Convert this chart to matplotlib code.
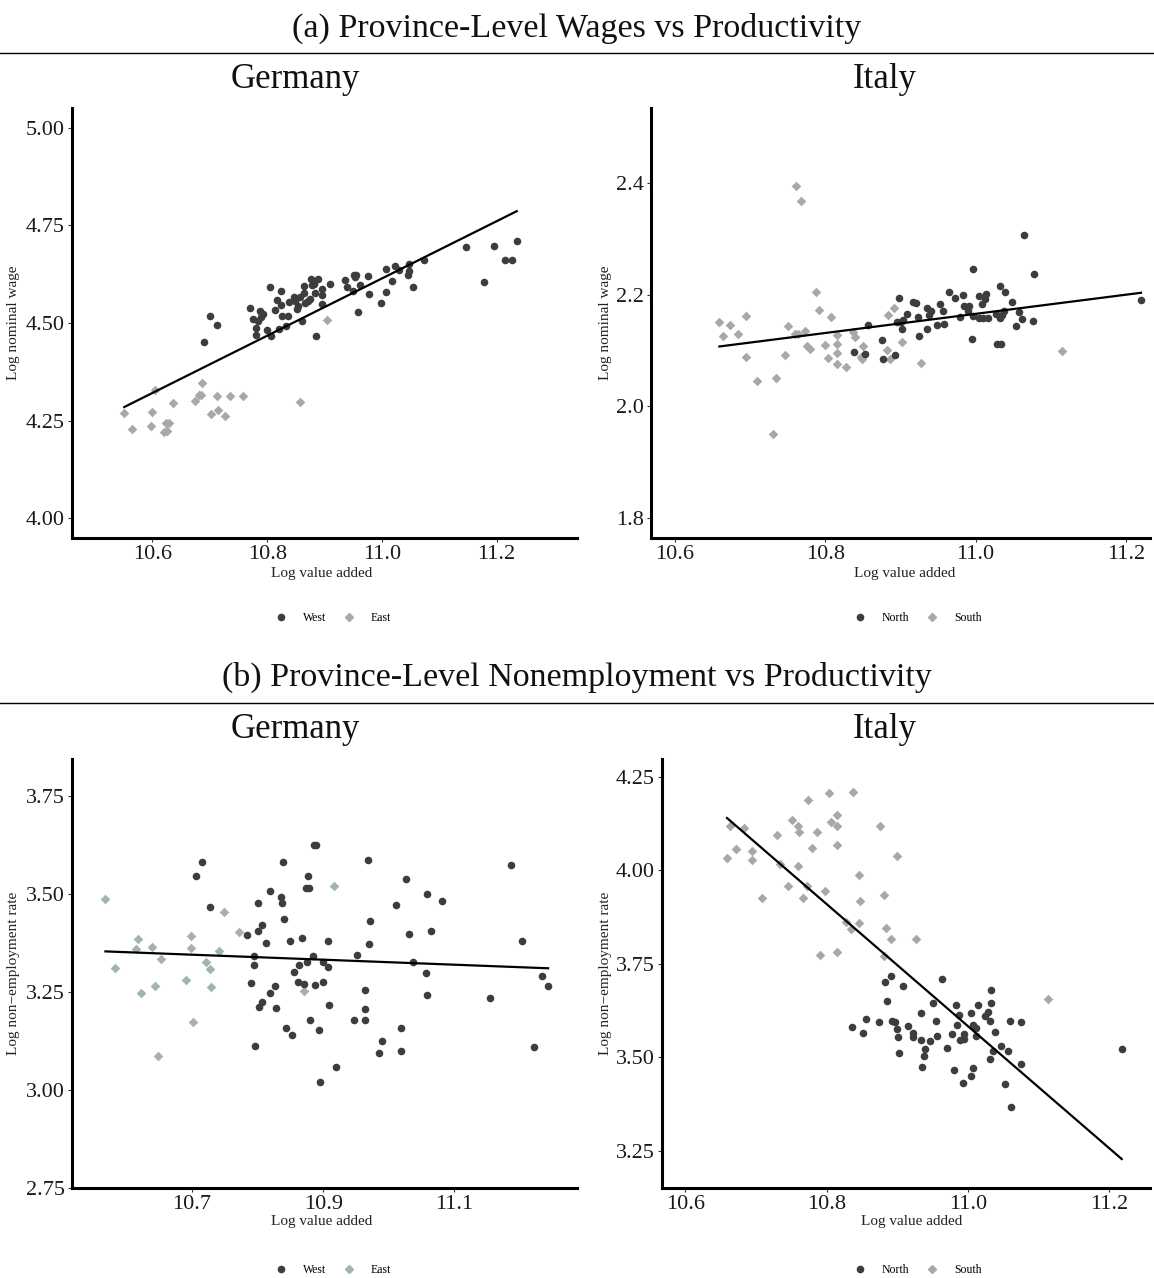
import numpy as np
import matplotlib.pyplot as plt
from matplotlib.lines import Line2D

# ---- data ----
# (a) wages, Germany
ger_w_west_x = [10.690, 10.701, 10.712, 10.770, 10.775, 10.780, 10.780, 10.784, 10.787, 10.790,
                10.793, 10.799, 10.805, 10.807, 10.813, 10.818, 10.821, 10.825, 10.825, 10.826,
                10.833, 10.837, 10.839, 10.846, 10.848, 10.852, 10.854, 10.858, 10.861, 10.864,
                10.865, 10.866, 10.871, 10.875, 10.876, 10.878, 10.881, 10.884, 10.885, 10.888,
                10.895, 10.896, 10.896, 10.909, 10.935, 10.940, 10.950, 10.952, 10.953, 10.955,
                10.958, 10.961, 10.975, 10.978, 10.999, 11.007, 11.008, 11.017, 11.022, 11.029,
                11.046, 11.047, 11.047, 11.054, 11.073, 11.146, 11.178, 11.195, 11.214, 11.226,
                11.235]
ger_w_west_y = [4.451, 4.519, 4.496, 4.538, 4.510, 4.488, 4.469, 4.506, 4.530, 4.515,
                4.523, 4.483, 4.593, 4.468, 4.532, 4.560, 4.484, 4.581, 4.546, 4.518,
                4.493, 4.519, 4.554, 4.566, 4.557, 4.535, 4.544, 4.566, 4.506, 4.595,
                4.578, 4.552, 4.557, 4.562, 4.613, 4.597, 4.600, 4.578, 4.467, 4.613,
                4.588, 4.571, 4.549, 4.600, 4.611, 4.592, 4.583, 4.624, 4.617, 4.623,
                4.527, 4.596, 4.619, 4.574, 4.552, 4.580, 4.638, 4.607, 4.647, 4.636,
                4.624, 4.632, 4.651, 4.591, 4.661, 4.695, 4.606, 4.697, 4.660, 4.660,
                4.710]
ger_w_east_x = [10.551, 10.565, 10.600, 10.597, 10.604, 10.623, 10.629, 10.620, 10.626, 10.636,
                10.675, 10.682, 10.685, 10.687, 10.703, 10.713, 10.714, 10.727, 10.735, 10.758,
                10.858, 10.905]
ger_w_east_y = [4.270, 4.229, 4.272, 4.237, 4.328, 4.243, 4.243, 4.221, 4.224, 4.295,
                4.300, 4.316, 4.316, 4.346, 4.266, 4.312, 4.278, 4.261, 4.312, 4.312,
                4.299, 4.507]
ger_w_fit = (-3.4436, 0.7325)  # intercept, slope

# (a) wages, Italy
ita_w_north_x = [10.838, 10.853, 10.857, 10.876, 10.877, 10.893, 10.898, 10.896, 10.901, 10.902,
                 10.903, 10.909, 10.917, 10.921, 10.923, 10.924, 10.935, 10.935, 10.938, 10.941,
                 10.948, 10.953, 10.956, 10.958, 10.964, 10.972, 10.979, 10.983, 10.985, 10.990,
                 10.991, 10.995, 10.996, 10.997, 11.004, 11.005, 11.008, 11.010, 11.013, 11.014,
                 11.016, 11.027, 11.029, 11.032, 11.033, 11.034, 11.035, 11.038, 11.039, 11.048,
                 11.054, 11.058, 11.062, 11.064, 11.076, 11.077, 11.220]
ita_w_north_y = [2.097, 2.094, 2.146, 2.118, 2.084, 2.091, 2.193, 2.151, 2.151, 2.139,
                 2.155, 2.165, 2.187, 2.185, 2.160, 2.125, 2.175, 2.139, 2.164, 2.171,
                 2.146, 2.183, 2.171, 2.147, 2.205, 2.194, 2.160, 2.200, 2.180, 2.171,
                 2.179, 2.121, 2.162, 2.246, 2.158, 2.197, 2.183, 2.158, 2.192, 2.201,
                 2.158, 2.166, 2.112, 2.158, 2.215, 2.112, 2.164, 2.171, 2.205, 2.187,
                 2.143, 2.168, 2.156, 2.306, 2.152, 2.236, 2.191]
ita_w_south_x = [10.659, 10.664, 10.673, 10.684, 10.695, 10.695, 10.709, 10.731, 10.734, 10.746,
                 10.750, 10.761, 10.767, 10.759, 10.763, 10.773, 10.775, 10.780, 10.787, 10.791,
                 10.799, 10.803, 10.808, 10.815, 10.815, 10.816, 10.816, 10.828, 10.837, 10.840,
                 10.847, 10.850, 10.849, 10.882, 10.884, 10.886, 10.892, 10.902, 10.927, 11.115]
ita_w_south_y = [2.150, 2.125, 2.146, 2.130, 2.161, 2.088, 2.045, 1.951, 2.050, 2.091,
                 2.144, 2.394, 2.368, 2.130, 2.130, 2.134, 2.107, 2.103, 2.205, 2.173,
                 2.109, 2.087, 2.160, 2.127, 2.111, 2.095, 2.076, 2.071, 2.133, 2.124,
                 2.089, 2.107, 2.085, 2.101, 2.164, 2.084, 2.176, 2.115, 2.077, 2.098]
ita_w_fit = (0.280, 0.1714)

# (b) nonemployment, Germany
ger_n_west_x = [10.715, 10.706, 10.728, 10.784, 10.790, 10.794, 10.795, 10.796, 10.800, 10.801,
                10.802, 10.806, 10.807, 10.813, 10.819, 10.819, 10.827, 10.828, 10.835, 10.837,
                10.838, 10.840, 10.849, 10.852, 10.844, 10.856, 10.861, 10.863, 10.868, 10.870,
                10.874, 10.877, 10.878, 10.875, 10.880, 10.885, 10.886, 10.889, 10.888, 10.894,
                10.895, 10.899, 10.900, 10.907, 10.907, 10.909, 10.919, 10.947, 10.952, 10.963,
                10.963, 10.964, 10.969, 10.970, 10.972, 10.985, 10.989, 11.011, 11.018, 11.018,
                11.027, 11.031, 11.037, 11.057, 11.058, 11.058, 11.065, 11.081, 11.155, 11.186,
                11.203, 11.222, 11.234, 11.243]
ger_n_west_y = [3.581, 3.544, 3.467, 3.394, 3.273, 3.317, 3.342, 3.113, 3.475, 3.405,
                3.212, 3.225, 3.420, 3.375, 3.506, 3.246, 3.265, 3.208, 3.491, 3.475,
                3.581, 3.435, 3.379, 3.139, 3.158, 3.300, 3.276, 3.319, 3.386, 3.270,
                3.515, 3.545, 3.515, 3.326, 3.178, 3.342, 3.625, 3.625, 3.267, 3.152,
                3.021, 3.327, 3.274, 3.379, 3.314, 3.216, 3.058, 3.179, 3.344, 3.254,
                3.206, 3.179, 3.585, 3.372, 3.431, 3.094, 3.124, 3.471, 3.098, 3.157,
                3.538, 3.398, 3.326, 3.297, 3.242, 3.499, 3.405, 3.481, 3.233, 3.572,
                3.379, 3.108, 3.290, 3.265]
ger_n_east_x = [10.568, 10.583, 10.614, 10.617, 10.622, 10.639, 10.643, 10.648, 10.652, 10.691,
                10.698, 10.698, 10.702, 10.721, 10.728, 10.729, 10.741, 10.749, 10.772, 10.870,
                10.917]
ger_n_east_y = [3.486, 3.310, 3.358, 3.384, 3.246, 3.363, 3.264, 3.086, 3.333, 3.281,
                3.361, 3.392, 3.174, 3.325, 3.309, 3.263, 3.353, 3.453, 3.401, 3.253,
                3.519]
ger_n_fit = (4.026, -0.0637)

# (b) nonemployment, Italy
ita_n_north_x = [10.836, 10.851, 10.856, 10.874, 10.883, 10.885, 10.891, 10.893, 10.897, 10.900,
                 10.901, 10.902, 10.908, 10.916, 10.922, 10.923, 10.934, 10.934, 10.935, 10.938,
                 10.940, 10.947, 10.951, 10.955, 10.956, 10.963, 10.970, 10.977, 10.981, 10.984,
                 10.985, 10.987, 10.989, 10.993, 10.994, 10.995, 11.004, 11.004, 11.007, 11.008,
                 11.011, 11.012, 11.014, 11.025, 11.028, 11.032, 11.032, 11.033, 11.033, 11.035,
                 11.038, 11.047, 11.052, 11.057, 11.060, 11.061, 11.075, 11.076, 11.218]
ita_n_north_y = [3.581, 3.565, 3.602, 3.593, 3.701, 3.651, 3.717, 3.597, 3.593, 3.575,
                 3.553, 3.512, 3.691, 3.583, 3.565, 3.554, 3.618, 3.546, 3.475, 3.504,
                 3.523, 3.543, 3.644, 3.597, 3.557, 3.710, 3.525, 3.563, 3.467, 3.639,
                 3.586, 3.613, 3.545, 3.430, 3.549, 3.561, 3.617, 3.451, 3.472, 3.586,
                 3.577, 3.556, 3.639, 3.611, 3.622, 3.494, 3.597, 3.681, 3.645, 3.516,
                 3.568, 3.529, 3.429, 3.516, 3.597, 3.367, 3.594, 3.483, 3.523]
ita_n_south_x = [10.659, 10.663, 10.672, 10.683, 10.695, 10.695, 10.708, 10.730, 10.734, 10.746,
                 10.751, 10.759, 10.760, 10.761, 10.766, 10.773, 10.774, 10.779, 10.786, 10.791,
                 10.798, 10.803, 10.807, 10.815, 10.815, 10.815, 10.815, 10.827, 10.835, 10.838,
                 10.846, 10.846, 10.848, 10.876, 10.882, 10.884, 10.882, 10.891, 10.900, 10.926,
                 11.113]
ita_n_south_y = [4.033, 4.119, 4.058, 4.114, 4.053, 4.028, 3.926, 4.094, 4.018, 3.957,
                 4.134, 4.011, 4.118, 4.103, 3.927, 3.957, 4.189, 4.061, 4.102, 3.773,
                 3.945, 4.206, 4.129, 4.148, 4.118, 4.067, 3.781, 3.862, 3.842, 4.210,
                 3.988, 3.858, 3.919, 4.120, 3.933, 3.846, 3.772, 3.817, 4.038, 3.816,
                 3.657]
ita_n_fit = (21.542, -1.6326)

DARK = "#3d3d3d"
LIGHT = "#a8a8a8"
TEAL = "#a3b3b1"

W, H = 1154, 1278
plt.rcParams['font.family'] = ['Liberation Serif', 'DejaVu Serif']
fig = plt.figure(figsize=(W / 100, H / 100), dpi=100)


def px_axes(x0, y0, x1, y1):
    return fig.add_axes([x0 / W, 1 - y1 / H, (x1 - x0) / W, (y1 - y0) / H])


def panel(box, g1, g2, c2, fit, xlim, ylim, xticks, yticks, yfmt,
          xlab_x, xlab_y, ylab, ylab_x, names, leg_x, leg_y):
    ax = px_axes(*box)
    (x1, y1), (x2, y2) = g1, g2
    ax.scatter(x1, y1, s=30, marker='o', color=DARK, linewidths=0, zorder=3)
    ax.scatter(x2, y2, s=24, marker='D', color=c2, linewidths=0, zorder=2)
    allx = np.array(list(x1) + list(x2))
    fx = np.array([allx.min(), allx.max()])
    ax.plot(fx, fit[0] + fit[1] * fx, color='black', lw=1.6, zorder=4)
    ax.set_xlim(*xlim)
    ax.set_ylim(*ylim)
    ax.set_xticks(xticks)
    ax.set_xticklabels([f"{t:.1f}" for t in xticks])
    ax.set_yticks(yticks)
    ax.set_yticklabels([yfmt.format(t) for t in yticks])
    for s in ['top', 'right']:
        ax.spines[s].set_visible(False)
    for s in ['left', 'bottom']:
        ax.spines[s].set_linewidth(2.2)
        ax.spines[s].set_color('black')
    ax.tick_params(length=3, width=0.8, color='#333333', labelsize=16,
                   labelcolor='#1a1a1a', pad=2)
    fig.text(xlab_x / W, 1 - xlab_y / H, "Log value added", ha='center', va='center',
             fontsize=11, color='#222222')
    fig.text(ylab_x / W, 1 - (box[1] + box[3]) / 2 / H, ylab, rotation=90,
             ha='center', va='center', fontsize=11, color='#222222')
    handles = [Line2D([], [], marker='o', ls='', color=DARK, markersize=4.5),
               Line2D([], [], marker='D', ls='', color=c2, markersize=3.8)]
    fig.legend(handles, names, loc='center', bbox_to_anchor=(leg_x / W, 1 - leg_y / H),
               ncol=2, frameon=False, fontsize=8.5, handletextpad=1.35, columnspacing=1.45,
               handlelength=1.0)
    return ax


# headers
fig.text(0.5, 1 - 28 / H, "(a) Province-Level Wages vs Productivity", ha='center',
         va='center', fontsize=24.5, color='#111111')
fig.add_artist(Line2D([0, 1], [1 - 53 / H] * 2, transform=fig.transFigure, color='black', lw=1))
fig.text(0.5, 1 - 677 / H, "(b) Province-Level Nonemployment vs Productivity", ha='center',
         va='center', fontsize=24.5, color='#111111')
fig.add_artist(Line2D([0, 1], [1 - 703 / H] * 2, transform=fig.transFigure, color='black', lw=1))
for yy in (80, 730):
    fig.text(295 / W, 1 - yy / H, "Germany", ha='center', va='center', fontsize=25, color='#111111')
    fig.text(885 / W, 1 - yy / H, "Italy", ha='center', va='center', fontsize=25, color='#111111')

xt6 = [10.6, 10.8, 11.0, 11.2]
panel((72, 108, 577, 538), (ger_w_west_x, ger_w_west_y), (ger_w_east_x, ger_w_east_y), LIGHT,
      ger_w_fit, (10.46, 11.34), (3.95, 5.05), xt6, [4.0, 4.25, 4.5, 4.75, 5.0], "{:.2f}",
      322, 574, "Log nominal wage", 14, ["West", "East"], 333, 618)
panel((651, 108, 1150, 538), (ita_w_north_x, ita_w_north_y), (ita_w_south_x, ita_w_south_y), LIGHT,
      ita_w_fit, (10.568, 11.232), (1.764, 2.534), xt6, [1.8, 2.0, 2.2, 2.4], "{:.1f}",
      905, 574, "Log nominal wage", 605, ["North", "South"], 918, 618)
panel((72, 759, 577, 1188), (ger_n_west_x, ger_n_west_y), (ger_n_east_x, ger_n_east_y), TEAL,
      ger_n_fit, (10.517, 11.287), (2.75, 3.843), [10.7, 10.9, 11.1],
      [2.75, 3.0, 3.25, 3.5, 3.75], "{:.2f}",
      322, 1222, "Log non\u2212employment rate", 14, ["West", "East"], 333, 1270)
panel((662, 759, 1150, 1188), (ita_n_north_x, ita_n_north_y), (ita_n_south_x, ita_n_south_y), LIGHT,
      ita_n_fit, (10.567, 11.258), (3.150, 4.298), xt6, [3.25, 3.5, 3.75, 4.0, 4.25], "{:.2f}",
      912, 1222, "Log non\u2212employment rate", 605, ["North", "South"], 918, 1270)

fig.savefig("out.png", dpi=100)
